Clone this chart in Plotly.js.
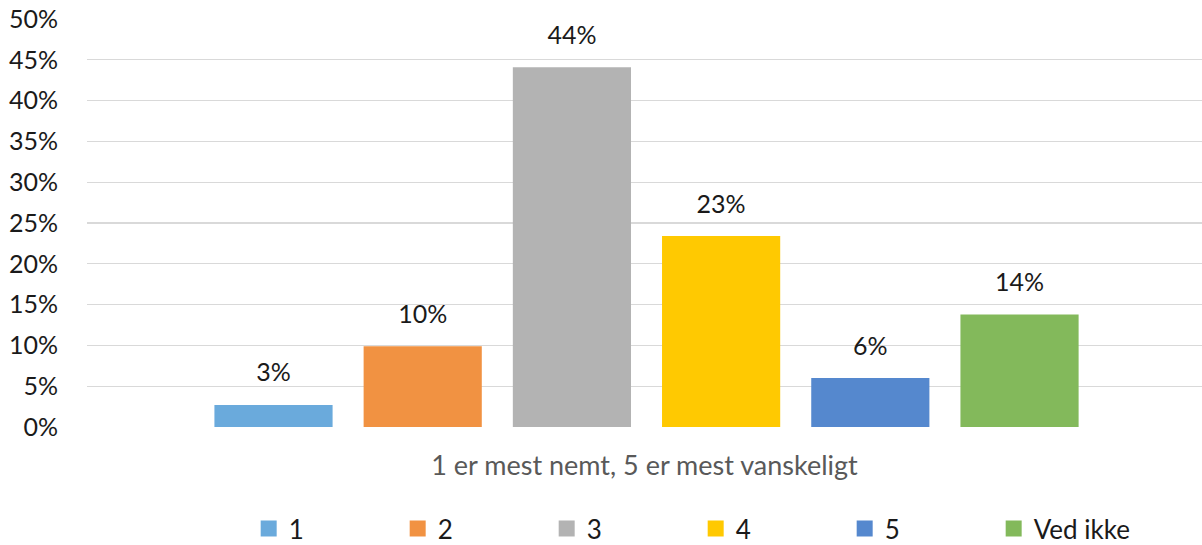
<!DOCTYPE html>
<html>
<head>
<meta charset="utf-8">
<script src="https://cdn.plot.ly/plotly-3.0.1.min.js"></script>
<style>
  html, body { margin: 0; padding: 0; background: #fff; }
  #chart { width: 1202px; height: 545px; }
</style>
</head>
<body>
<div id="chart"></div>
<script>
// ---- data ----
const category = ["1 er mest nemt, 5 er mest vanskeligt"];
const seriesNames = ["1", "2", "3", "4", "5", "Ved ikke"];
const seriesValues = [0.027, 0.099, 0.441, 0.234, 0.060, 0.138];
const seriesColors = ["#6AAADC", "#F19242", "#B3B3B3", "#FFC901", "#5588CE", "#83B95B"];
const yTickVals = [0, 0.05, 0.10, 0.15, 0.20, 0.25, 0.30, 0.35, 0.40, 0.45, 0.50];
const yTickText = ["0%", "5%", "10%", "15%", "20%", "25%", "30%", "35%", "40%", "45%", "50%"];

const FONT = "Lato, 'Noto Sans', 'Liberation Sans', sans-serif";
const traces = [];

// bars
seriesNames.forEach((name, i) => {
  traces.push({
    type: "bar",
    x: category,
    y: [seriesValues[i]],
    name: name,
    offsetgroup: "g" + i,
    marker: { color: seriesColors[i] },
    showlegend: false,
    hoverinfo: "skip"
  });
});

// value labels, aligned with the bars through offsetgroup
seriesNames.forEach((name, i) => {
  traces.push({
    type: "scatter",
    x: category,
    y: [seriesValues[i]],
    offsetgroup: "g" + i,
    mode: "markers+text",
    marker: { size: 26, opacity: 0, color: seriesColors[i] },
    text: [Math.round(seriesValues[i] * 100) + "%"],
    textposition: "top center",
    textfont: { family: FONT, size: 25, color: "#1a1a1a" },
    showlegend: false,
    hoverinfo: "skip",
    cliponaxis: false
  });
});

// legend entries
seriesNames.forEach((name, i) => {
  traces.push({
    type: "scatter",
    x: [null],
    y: [null],
    name: name,
    offsetgroup: "g" + i,
    mode: "markers",
    marker: { symbol: "square", size: 16, color: seriesColors[i] },
    showlegend: true,
    hoverinfo: "skip"
  });
});

const layout = {
  width: 1202,
  height: 545,
  margin: { l: 87, r: 0, t: 19, b: 118, autoexpand: false },
  paper_bgcolor: "#ffffff",
  plot_bgcolor: "#ffffff",
  font: { family: FONT, size: 25, color: "#1a1a1a" },
  barmode: "group",
  scattermode: "group",
  bargap: 0.2,
  scattergap: 0.2,
  bargroupgap: 0.208,
  xaxis: {
    type: "category",
    range: [-0.5, 0.4964],
    showticklabels: false,
    showgrid: false,
    zeroline: false,
    showline: false,
    ticks: "",
    automargin: false,
    title: {
      text: category[0],
      font: { family: FONT, size: 27, color: "#595959" },
      standoff: 29
    }
  },
  yaxis: {
    range: [0, 0.5],
    tickvals: yTickVals,
    ticktext: yTickText,
    showgrid: true,
    gridcolor: "#d9d9d9",
    gridwidth: 1.3,
    zeroline: false,
    showline: false,
    ticks: "",
    automargin: false,
    ticklabelstandoff: 28,
    tickfont: { family: FONT, size: 25, color: "#1a1a1a" }
  },
  showlegend: true,
  legend: {
    orientation: "h",
    x: 0.145,
    xanchor: "left",
    y: -0.1914,
    yanchor: "top",
    entrywidth: 104,
    entrywidthmode: "pixels",
    font: { family: FONT, size: 26, color: "#1a1a1a" },
    traceorder: "normal",
    bgcolor: "rgba(0,0,0,0)"
  }
};

Plotly.newPlot("chart", traces, layout, { staticPlot: true, displayModeBar: false });
</script>
</body>
</html>
